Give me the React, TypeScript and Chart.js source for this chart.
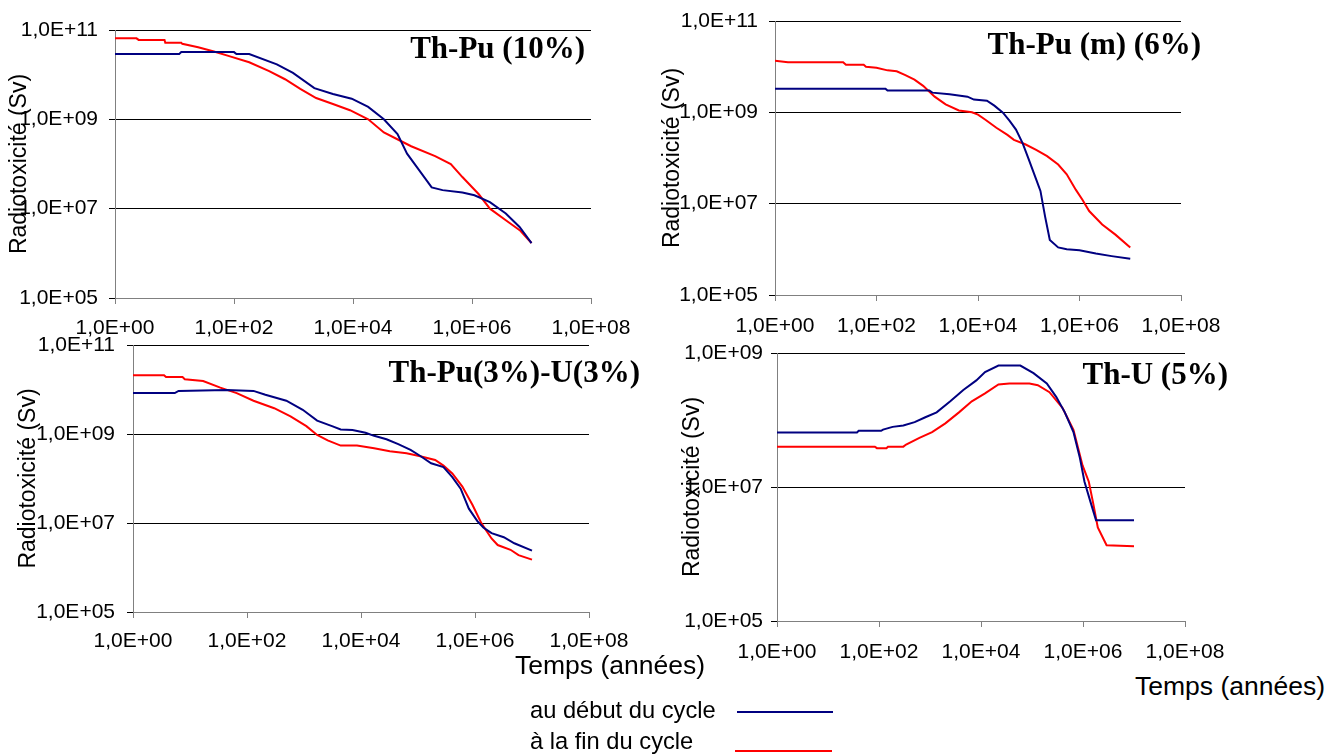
import React, { useEffect, useRef } from 'react';
import { Chart, registerables } from 'chart.js';

Chart.register(...registerables);

// ---------- Tick values and labels ----------
const xTickValues = [1, 1e2, 1e4, 1e6, 1e8];
const xTickLabels = ['1,0E+00', '1,0E+02', '1,0E+04', '1,0E+06', '1,0E+08'];
const yTickValues = [1e5, 1e7, 1e9, 1e11];
const yTickLabels = ['1,0E+05', '1,0E+07', '1,0E+09', '1,0E+11'];
const yTickValuesThU = [1e5, 1e7, 1e9];
const yTickLabelsThU = ['1,0E+05', '1,0E+07', '1,0E+09'];

const seriesNames = ['au début du cycle', 'à la fin du cycle'];
const panelTitles = ['Th-Pu (10%)', 'Th-Pu (m) (6%)', 'Th-Pu(3%)-U(3%)', 'Th-U (5%)'];
const yAxisTitle = 'Radiotoxicité (Sv)';
const xAxisTitle = 'Temps (années)';

// ---------- Panel 1 : Th-Pu (10%) ----------
const thPu10DebutT = [1, 12, 13, 100, 110, 180, 525, 980, 2240, 4600, 9500, 1.8e4, 3.3e4, 5.6e4, 8.1e4, 1.3e5, 2.1e5, 3.2e5, 6.9e5, 1.1e6, 2.0e6, 3.7e6, 6.3e6, 1e7];
const thPu10DebutV = [2.9e10, 2.9e10, 3.2e10, 3.2e10, 2.9e10, 2.9e10, 1.7e10, 1.1e10, 5.0e9, 3.7e9, 2.9e9, 1.9e9, 1.0e9, 4.7e8, 1.7e8, 7.2e7, 3.0e7, 2.6e7, 2.3e7, 2.0e7, 1.4e7, 7.8e6, 3.9e6, 1.7e6];
const thPu10FinT = [1, 2.3, 2.5, 6.8, 7, 13, 13.5, 25, 46, 83, 180, 390, 720, 1300, 2400, 4600, 8900, 1.8e4, 3.3e4, 6.0e4, 9.5e4, 2.4e5, 4.4e5, 6.9e5, 1.3e6, 2.0e6, 3.7e6, 6.5e6, 1e7];
const thPu10FinV = [6.5e10, 6.5e10, 6.0e10, 6.0e10, 5.2e10, 5.2e10, 4.9e10, 4.1e10, 3.3e10, 2.6e10, 1.9e10, 1.2e10, 7.9e9, 4.8e9, 3.0e9, 2.2e9, 1.6e9, 1.0e9, 5.1e8, 3.4e8, 2.5e8, 1.5e8, 1.0e8, 5.1e7, 2.1e7, 1.0e7, 5.5e6, 3.2e6, 1.7e6];

// ---------- Panel 2 : Th-Pu (m) (6%) ----------
const thPuM6DebutT = [1, 150, 165, 1100, 1260, 2750, 6200, 8300, 1.5e4, 2.1e4, 3.1e4, 4.2e4, 5.6e4, 7.6e4, 1.0e5, 1.4e5, 1.7e5, 2.1e5, 2.6e5, 3.8e5, 5.6e5, 1.0e6, 2.1e6, 4.3e6, 1e7];
const thPuM6DebutV = [3.3e9, 3.3e9, 3.0e9, 3.0e9, 2.7e9, 2.5e9, 2.2e9, 1.9e9, 1.8e9, 1.4e9, 9.8e8, 6.5e8, 4.2e8, 2.1e8, 9.3e7, 3.4e7, 1.9e7, 5.2e6, 1.6e6, 1.1e6, 1.0e6, 9.5e5, 8.1e5, 7.1e5, 6.2e5];
const thPuM6FinT = [1, 1.8, 22, 25, 56, 62, 100, 165, 250, 370, 560, 830, 1400, 2300, 4200, 7600, 1.0e4, 1.4e4, 2.3e4, 3.8e4, 5.1e4, 8.5e4, 1.4e5, 2.3e5, 3.8e5, 5.6e5, 8.5e5, 1.15e6, 1.55e6, 2.8e6, 5.1e6, 1e7];
const thPuM6FinV = [1.35e10, 1.25e10, 1.25e10, 1.1e10, 1.1e10, 1.0e10, 9.5e9, 8.3e9, 7.9e9, 6.5e9, 5.2e9, 3.8e9, 2.2e9, 1.5e9, 1.1e9, 1.0e9, 8.9e8, 6.9e8, 4.6e8, 3.2e8, 2.5e8, 2.0e8, 1.5e8, 1.1e8, 7.2e7, 4.4e7, 2.0e7, 1.2e7, 6.9e6, 3.5e6, 2.1e6, 1.1e6];

// ---------- Panel 3 : Th-Pu(3%)-U(3%) ----------
const thPuUDebutT = [1, 5.4, 6.3, 44, 130, 210, 490, 950, 1700, 3100, 4400, 7100, 1.2e4, 1.7e4, 2.8e4, 4.5e4, 7.4e4, 1.1e5, 1.7e5, 2.8e5, 4.0e5, 5.6e5, 7.8e5, 1.1e6, 1.4e6, 1.95e6, 3.2e6, 4.9e6, 1e7];
const thPuUDebutV = [8.3e9, 8.3e9, 9.3e9, 9.8e9, 9.3e9, 7.6e9, 5.6e9, 3.5e9, 2.0e9, 1.5e9, 1.26e9, 1.23e9, 1.07e9, 9.1e8, 7.6e8, 5.9e8, 4.4e8, 3.2e8, 2.2e8, 1.8e8, 1.07e8, 5.9e7, 2.1e7, 1.1e7, 7.9e6, 5.9e6, 4.8e6, 3.5e6, 2.4e6];
const thPuUFinT = [1, 3.5, 3.8, 7.4, 8.1, 17, 34, 66, 130, 300, 580, 1100, 1700, 2600, 4400, 8500, 1.7e4, 3.2e4, 6.3e4, 1.05e5, 2.0e5, 2.8e5, 4.0e5, 6.0e5, 9.1e5, 1.3e6, 1.95e6, 2.5e6, 4.2e6, 5.8e6, 1e7];
const thPuUFinV = [2.1e10, 2.1e10, 1.9e10, 1.9e10, 1.7e10, 1.55e10, 1.1e10, 8.3e9, 5.6e9, 3.8e9, 2.5e9, 1.5e9, 9.5e8, 7.2e8, 5.5e8, 5.5e8, 4.8e8, 4.1e8, 3.7e8, 3.2e8, 2.6e8, 1.95e8, 1.3e8, 6.6e7, 2.5e7, 9.8e6, 4.5e6, 3.2e6, 2.5e6, 1.9e6, 1.5e6];

// ---------- Panel 4 : Th-U (5%) ----------
const thU5DebutT = [1, 37, 40, 110, 120, 185, 300, 500, 810, 1350, 2500, 4500, 8100, 1.2e4, 2.2e4, 5.9e4, 1.07e5, 1.95e5, 3.0e5, 4.4e5, 6.5e5, 8.7e5, 1.07e6, 1.45e6, 1.8e6, 1e7];
const thU5DebutV = [6.5e7, 6.5e7, 6.9e7, 6.9e7, 7.2e7, 7.9e7, 8.3e7, 9.3e7, 1.1e8, 1.3e8, 1.9e8, 2.8e8, 3.9e8, 5.2e8, 6.5e8, 6.5e8, 5.0e8, 3.5e8, 2.2e8, 1.3e8, 6.6e7, 2.7e7, 1.2e7, 5.5e6, 3.2e6, 3.2e6];
const thU5FinT = [1, 83, 91, 140, 150, 300, 340, 620, 1100, 2000, 3700, 6600, 1.2e4, 2.2e4, 3.6e4, 8.9e4, 1.3e5, 2.2e5, 4.0e5, 6.5e5, 9.8e5, 1.3e6, 1.6e6, 1.95e6, 2.9e6, 1e7];
const thU5FinV = [4.0e7, 4.0e7, 3.8e7, 3.8e7, 4.0e7, 4.0e7, 4.3e7, 5.4e7, 6.6e7, 8.9e7, 1.3e8, 1.9e8, 2.5e8, 3.4e8, 3.5e8, 3.5e8, 3.3e8, 2.6e8, 1.5e8, 7.1e7, 2.1e7, 1.2e7, 5.5e6, 2.5e6, 1.35e6, 1.3e6];

// ---------- Styles ----------
const DEBUT_COLOR = '#000080';
const FIN_COLOR = '#ff0000';
const SANS = '"Liberation Sans", Arial, sans-serif';
const SERIF = '"Liberation Serif", "Times New Roman", serif';

type PanelDef = {
  title: string;
  debutT: number[]; debutV: number[]; finT: number[]; finV: number[];
  yMin: number; yMax: number; yTicks: number[]; yLabels: string[];
  box: { left: number; top: number; width: number; height: number };
  pad: { left: number; top: number; right: number; bottom: number };
  yw: number; xh: number; yLabelPad: number; xLabelPad: number;
  titleDx: number; titleDy: number;
};

const panels: PanelDef[] = [
  {
    title: panelTitles[0], debutT: thPu10DebutT, debutV: thPu10DebutV, finT: thPu10FinT, finV: thPu10FinV,
    yMin: 1e5, yMax: 1e11, yTicks: yTickValues, yLabels: yTickLabels,
    box: { left: 0, top: 0, width: 651, height: 348 }, pad: { left: 6, top: 30, right: 60, bottom: 0 },
    yw: 109, xh: 50, yLabelPad: 11, xLabelPad: 12, titleDx: -6, titleDy: 20,
  },
  {
    title: panelTitles[1], debutT: thPuM6DebutT, debutV: thPuM6DebutV, finT: thPuM6FinT, finV: thPuM6FinV,
    yMin: 1e5, yMax: 1e11, yTicks: yTickValues, yLabels: yTickLabels,
    box: { left: 650, top: -9, width: 591, height: 354 }, pad: { left: 9, top: 30, right: 60, bottom: 0 },
    yw: 116, xh: 50, yLabelPad: 11, xLabelPad: 13, titleDx: 20, titleDy: 25,
  },
  {
    title: panelTitles[2], debutT: thPuUDebutT, debutV: thPuUDebutV, finT: thPuUFinT, finV: thPuUFinV,
    yMin: 1e5, yMax: 1e11, yTicks: yTickValues, yLabels: yTickLabels,
    box: { left: 0, top: 315, width: 649, height: 347 }, pad: { left: 15, top: 30, right: 60, bottom: 0 },
    yw: 118, xh: 50, yLabelPad: 12, xLabelPad: 11, titleDx: 51, titleDy: 29,
  },
  {
    title: panelTitles[3], debutT: thU5DebutT, debutV: thU5DebutV, finT: thU5FinT, finV: thU5FinV,
    yMin: 1e5, yMax: 1e9, yTicks: yTickValuesThU, yLabels: yTickLabelsThU,
    box: { left: 650, top: 323, width: 595, height: 348 }, pad: { left: 29, top: 30, right: 60, bottom: 0 },
    yw: 98, xh: 50, yLabelPad: 8, xLabelPad: 13, titleDx: 43, titleDy: 23,
  },
];

const panelTitlePlugin = {
  id: 'panelTitle',
  afterDraw(chart: any, _args: any, opts: any) {
    const { ctx, chartArea } = chart;
    ctx.save();
    ctx.font = `bold 31px ${SERIF}`;
    ctx.fillStyle = '#000';
    ctx.textAlign = 'right';
    ctx.textBaseline = 'middle';
    ctx.fillText(opts.text, chartArea.right + opts.dx, chartArea.top + opts.dy);
    ctx.restore();
  },
};

function Panel({ def }: { def: PanelDef }) {
  const ref = useRef<HTMLCanvasElement | null>(null);
  useEffect(() => {
    if (!ref.current) return;
    const chart = new Chart(ref.current, {
      type: 'line',
      data: {
        datasets: [
          {
            label: seriesNames[0],
            data: def.debutT.map((t, i) => ({ x: t, y: def.debutV[i] })),
            borderColor: DEBUT_COLOR, backgroundColor: DEBUT_COLOR,
            borderWidth: 2, pointRadius: 0, tension: 0, fill: false,
          },
          {
            label: seriesNames[1],
            data: def.finT.map((t, i) => ({ x: t, y: def.finV[i] })),
            borderColor: FIN_COLOR, backgroundColor: FIN_COLOR,
            borderWidth: 2, pointRadius: 0, tension: 0, fill: false,
          },
        ],
      },
      options: {
        responsive: false,
        animation: false,
        devicePixelRatio: 1,
        layout: { padding: def.pad },
        plugins: {
          legend: { display: false },
          tooltip: { enabled: false },
          title: { display: false },
          panelTitle: { text: def.title, dx: def.titleDx, dy: def.titleDy },
        } as any,
        scales: {
          x: {
            type: 'logarithmic',
            min: 1, max: 1e8,
            afterBuildTicks: (scale: any) => { scale.ticks = xTickValues.map((v) => ({ value: v })); },
            afterFit: (scale: any) => { scale.height = def.xh; },
            ticks: {
              autoSkip: false, maxRotation: 0, minRotation: 0,
              padding: def.xLabelPad, color: '#000',
              font: { family: SANS, size: 21 },
              callback: (_v: any, i: number) => xTickLabels[i],
            },
            grid: { drawOnChartArea: false, drawTicks: true, tickLength: 6, color: '#808080', lineWidth: 1 },
            border: { display: true, color: '#808080', width: 1 },
          },
          y: {
            type: 'logarithmic',
            min: def.yMin, max: def.yMax,
            afterBuildTicks: (scale: any) => { scale.ticks = def.yTicks.map((v) => ({ value: v })); },
            afterFit: (scale: any) => { scale.width = def.yw; },
            ticks: {
              autoSkip: false, padding: def.yLabelPad, color: '#000',
              font: { family: SANS, size: 21 },
              callback: (_v: any, i: number) => def.yLabels[i],
            },
            grid: { drawOnChartArea: true, drawTicks: true, tickLength: 6, color: '#000', lineWidth: 1 },
            border: { display: true, color: '#808080', width: 1 },
            title: {
              display: true, text: yAxisTitle, color: '#000',
              font: { family: SANS, size: 23 }, padding: 0,
            },
          },
        },
      } as any,
      plugins: [panelTitlePlugin as any],
    });
    return () => chart.destroy();
  }, [def]);
  const b = def.box;
  return (
    <canvas
      ref={ref}
      width={b.width}
      height={b.height}
      style={{ position: 'absolute', left: b.left, top: b.top, width: b.width, height: b.height }}
    />
  );
}

const textStyle = (left: number, centerY: number, size: number): React.CSSProperties => ({
  position: 'absolute', left, top: centerY - size / 2, fontFamily: SANS, fontSize: size,
  lineHeight: `${size}px`, color: '#000', whiteSpace: 'nowrap',
});

export default function App() {
  return (
    <div style={{ position: 'absolute', left: 0, top: 0, width: 1342, height: 756, overflow: 'hidden', background: '#fff' }}>
      {panels.map((p, i) => <Panel key={i} def={p} />)}
      <div style={textStyle(515, 665, 26.5)}>{xAxisTitle}</div>
      <div style={textStyle(1135, 686, 26.5)}>{xAxisTitle}</div>
      <div style={textStyle(530, 711, 23.7)}>{seriesNames[0]}</div>
      <div style={{ position: 'absolute', left: 737, top: 711, width: 96, height: 0, borderTop: `2px solid ${DEBUT_COLOR}` }} />
      <div style={textStyle(530, 742, 23.7)}>{seriesNames[1]}</div>
      <div style={{ position: 'absolute', left: 735, top: 750, width: 97, height: 0, borderTop: `2px solid ${FIN_COLOR}` }} />
    </div>
  );
}
